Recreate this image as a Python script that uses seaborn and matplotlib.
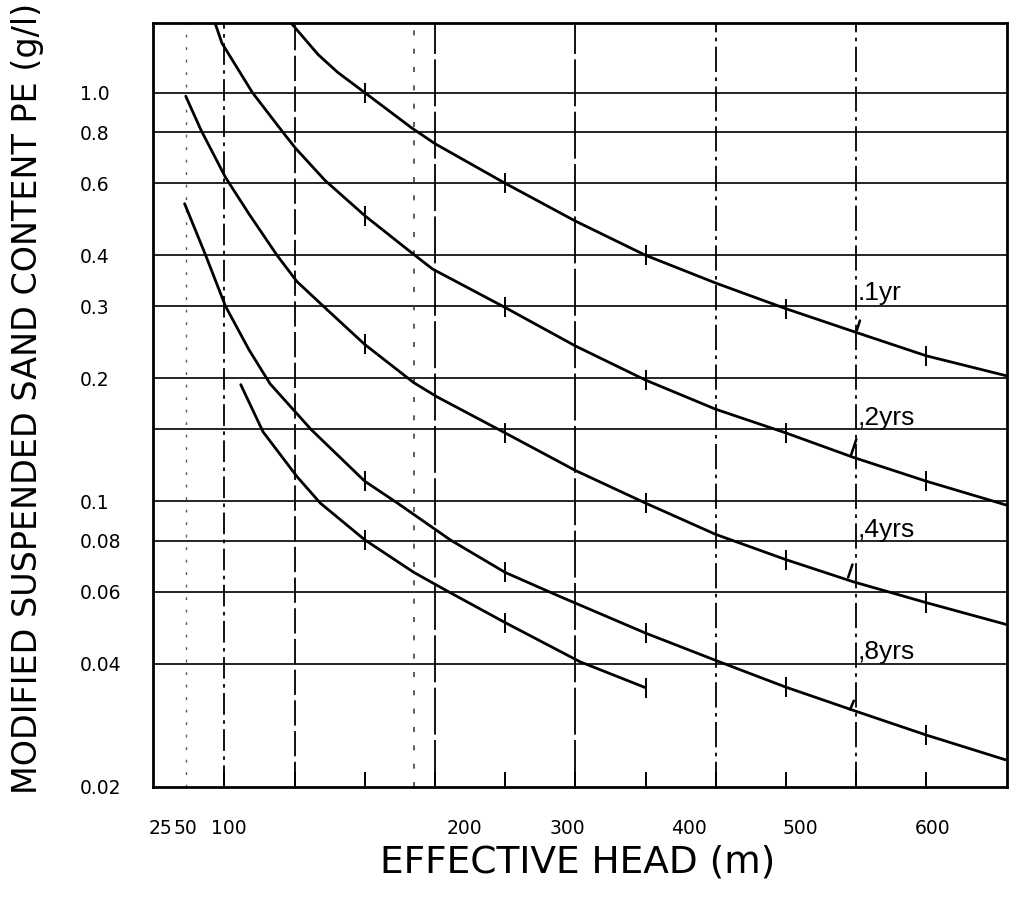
import numpy as np
import pandas as pd
import matplotlib
matplotlib.use("Agg")
import matplotlib.pyplot as plt
import seaborn as sns
from matplotlib.ticker import FixedLocator, FixedFormatter, NullLocator

# ---------------- data ----------------
head_1yr = [57, 80, 97, 120, 160, 180, 240, 300, 360, 420, 480, 540, 600, 668]
pe_1yr = [1.48, 1.24, 1.12, 1.0, 0.82, 0.75, 0.60, 0.485, 0.40, 0.342, 0.296, 0.259, 0.227, 0.203]

head_2yrs = [-8, -2, 24, 50, 61, 86, 120, 158, 178, 240, 300, 360, 420, 480, 538, 600, 668]
pe_2yrs = [1.48, 1.32, 1.0, 0.80, 0.73, 0.61, 0.50, 0.41, 0.37, 0.298, 0.24, 0.198,
           0.168, 0.147, 0.128, 0.112, 0.098]

head_4yrs = [-33, -20, 1, 21, 45, 62, 88, 120, 162, 182, 240, 300, 360, 420, 480, 538, 600, 668]
pe_4yrs = [0.98, 0.81, 0.62, 0.505, 0.40, 0.345, 0.294, 0.242, 0.195, 0.18, 0.147, 0.119,
           0.099, 0.083, 0.072, 0.0635, 0.0565, 0.05]

head_8yrs = [-34, -16, 1, 21, 39, 74, 120, 148, 193, 240, 285, 360, 423, 480, 542, 600, 668]
pe_8yrs = [0.535, 0.40, 0.30, 0.235, 0.194, 0.15, 0.112, 0.099, 0.0805, 0.067, 0.0588,
           0.0476, 0.0405, 0.0351, 0.0305, 0.0268, 0.0233]

head_short = [14, 33, 62, 82, 120, 162, 192, 240, 304, 360]
pe_short = [0.193, 0.148, 0.115, 0.099, 0.0805, 0.067, 0.06, 0.0505, 0.0405, 0.035]

curve_names = ["1yr", "2yrs", "4yrs", "8yrs", "short"]
curve_labels = [".1yr", ",2yrs", ",4yrs", ",8yrs", None]
curve_heads = [head_1yr, head_2yrs, head_4yrs, head_8yrs, head_short]
curve_pes = [pe_1yr, pe_2yrs, pe_4yrs, pe_8yrs, pe_short]

# label anchor (head, pe) and leader stroke (from -> to)
label_pos = [(541, 0.324), (541, 0.160), (541, 0.0851), (541, 0.0428)]
leader_from = [(544, 0.281), (541, 0.144), (537.6, 0.0711), (539, 0.0330)]
leader_to = [(540, 0.2585), (535, 0.128), (532.5, 0.0642), (534, 0.0305)]

curve_tick_heads = [120, 240, 360, 480, 600]

y_tick_values = [1.0, 0.8, 0.6, 0.4, 0.3, 0.2, 0.1, 0.08, 0.06, 0.04, 0.02]
y_tick_labels = ["1.0", "0.8", "0.6", "0.4", "0.3", "0.2", "0.1", "0.08", "0.06", "0.04", "0.02"]
h_grid = [1.0, 0.8, 0.6, 0.4, 0.3, 0.2, 0.15, 0.1, 0.08, 0.06, 0.04]

x_tick_labels = ["25", "50", "100", "200", "300", "400", "500", "600"]
x_tick_pos = [-55, -33, 3.5, 205, 293, 397, 492, 605]
x_minor_ticks = [0, 60, 120, 180, 240, 300, 360, 420, 480, 540, 600]

v_grid = [-33, 0, 60, 162, 180, 300, 420, 540]
v_styles = [(0, (2, 7)), (0, (12, 3, 2, 3)), (0, (14, 3)), (0, (3, 8)),
            (0, (26, 3)), (0, (26, 3)), (0, (14, 3, 2, 3)), (0, (14, 3, 2, 3))]
v_colors = ["0.35", "k", "k", "0.25", "k", "k", "k", "k"]
v_widths = [1.0, 1.3, 1.3, 1.2, 1.3, 1.3, 1.3, 1.3]

# ---------------- figure ----------------
sns.set_style("white")
plt.rcParams["font.family"] = ["DejaVu Sans"]
plt.rcParams["text.color"] = "black"
plt.rcParams["xtick.color"] = "black"
plt.rcParams["ytick.color"] = "black"

fig = plt.figure(figsize=(10.23, 9.16), dpi=100)
W, H = 1023, 916
ax = fig.add_axes([153 / W, 1 - 787 / H, (1007 - 153) / W, (787 - 23) / H])

rows = []
for name, hs, ps in zip(curve_names, curve_heads, curve_pes):
    for h, p in zip(hs, ps):
        rows.append({"curve": name, "head": h, "pe": p})
df = pd.DataFrame(rows)

ax.set_yscale("log")
ax.set_xlim(-61, 669)
ax.set_ylim(0.02, 1.48)

# grid lines
for v in h_grid:
    ax.axhline(v, color="k", lw=1.2, zorder=1)
for xv, ls, c, lw in zip(v_grid, v_styles, v_colors, v_widths):
    ax.axvline(xv, color=c, lw=lw, ls=ls, zorder=1)

sns.lineplot(data=df, x="head", y="pe", units="curve", estimator=None,
             sort=False, color="black", lw=2.0, ax=ax, legend=False, zorder=3)

# small tick marks along the curves
for hs, ps in zip(curve_heads, curve_pes):
    tx = [h for h in hs if h in curve_tick_heads]
    ty = [p for h, p in zip(hs, ps) if h in curve_tick_heads]
    ax.plot(tx, ty, ls="none", marker="|", ms=14, mew=1.4, color="k", zorder=4)

# curve labels with leader strokes
for lab, pos, fr, to in zip(curve_labels, label_pos, leader_from, leader_to):
    if lab is None:
        continue
    ax.text(pos[0], pos[1], lab, ha="left", va="center", fontsize=19,
            family="Liberation Sans", color="black", zorder=5)
    ax.annotate("", xy=to, xytext=fr,
                arrowprops=dict(arrowstyle="-", lw=1.8, color="k"), zorder=5)

# axes / ticks
ax.yaxis.set_major_locator(FixedLocator(y_tick_values))
ax.yaxis.set_major_formatter(FixedFormatter(y_tick_labels))
ax.yaxis.set_minor_locator(NullLocator())
ax.tick_params(axis="y", which="both", left=False, length=0, pad=52.5,
               labelsize=13.5, labelcolor="black")
for t in ax.get_yticklabels():
    t.set_horizontalalignment("left")

ax.xaxis.set_major_locator(FixedLocator(x_tick_pos))
ax.xaxis.set_major_formatter(FixedFormatter(x_tick_labels))
ax.xaxis.set_minor_locator(FixedLocator(x_minor_ticks))
ax.tick_params(axis="x", which="major", bottom=True, length=0, pad=23,
               labelsize=13.5, labelcolor="black")
ax.tick_params(axis="x", which="minor", bottom=True, direction="in",
               length=11, width=1.4, color="k")

for s in ax.spines.values():
    s.set_color("k")
    s.set_linewidth(2)

ax.set_xlabel("")
ax.set_ylabel("")
fig.text(28 / W, 1 - 398 / H, "MODIFIED SUSPENDED SAND CONTENT PE (g/l)",
         rotation=90, ha="center", va="center", fontsize=24, color="black")
fig.text(578 / W, 1 - 862 / H, "EFFECTIVE HEAD (m)", ha="center", va="center",
         fontsize=27, color="black")

fig.savefig("out.png", dpi=100, facecolor="white")
